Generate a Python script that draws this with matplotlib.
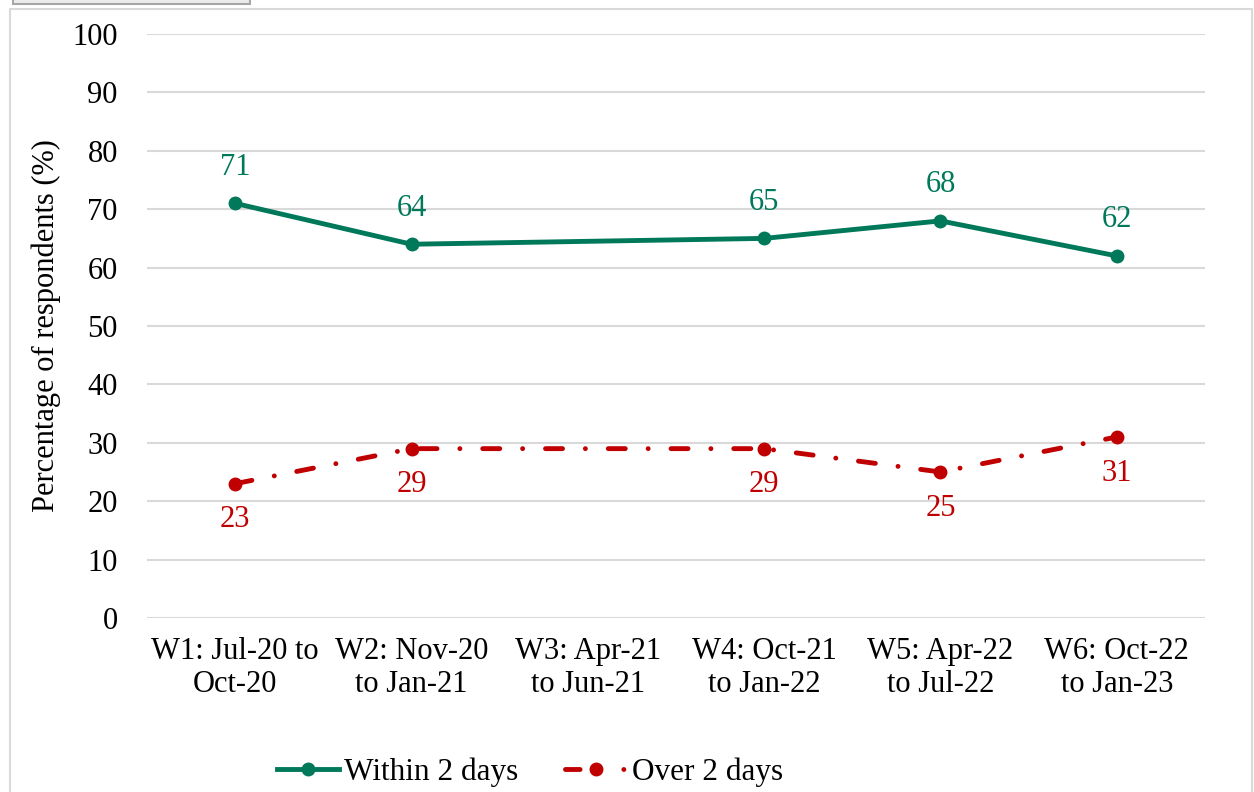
import matplotlib.pyplot as plt
from matplotlib.patches import Rectangle
from matplotlib.lines import Line2D

plt.rcParams["font.family"] = ["Liberation Serif", "DejaVu Serif"]

waves = [
    "W1: Jul-20 to\nOct-20",
    "W2: Nov-20\nto Jan-21",
    "W3: Apr-21\nto Jun-21",
    "W4: Oct-21\nto Jan-22",
    "W5: Apr-22\nto Jul-22",
    "W6: Oct-22\nto Jan-23",
]
# W3 has no data, the lines run straight from W2 to W4
wave_idx = [0, 1, 3, 4, 5]
within_2_days = [71, 64, 65, 68, 62]
over_2_days = [23, 29, 29, 25, 31]

green = "#00785A"
red = "#C00000"
fs = 22
lw = 3.5
ms = 9
dash_dot = (3.5, 4.7, 0.01, 4.7)

fig = plt.figure(figsize=(12.54, 7.92), dpi=100)
ax = fig.add_axes([147 / 1254, 1 - 618 / 792, (1205 - 147) / 1254, (618 - 34) / 792])

ax.plot(wave_idx, within_2_days, color=green, lw=lw, marker="o", ms=ms,
        solid_capstyle="round", zorder=3)
ax.plot(wave_idx, over_2_days, color=red, lw=lw, marker="o", ms=ms,
        dashes=dash_dot, dash_capstyle="round", zorder=3)

for x, v in zip(wave_idx, within_2_days):
    ax.annotate(str(v), (x, v), xytext=(0, 26), textcoords="offset points",
                ha="center", va="center", fontsize=fs, color=green)
for x, v in zip(wave_idx, over_2_days):
    ax.annotate(str(v), (x, v), xytext=(0, -26), textcoords="offset points",
                ha="center", va="center", fontsize=fs, color=red)

ax.set_xlim(-0.5, 5.5)
ax.set_ylim(0, 100)
ax.set_yticks(range(0, 101, 10))
ax.set_xticks(range(len(waves)))
ax.set_xticklabels(waves, linespacing=1.15)
ax.tick_params(axis="both", length=0, labelsize=fs)
ax.tick_params(axis="y", pad=21)
ax.tick_params(axis="x", pad=14)
ax.grid(axis="y", color="#D9D9D9", lw=1.5)
ax.set_axisbelow(True)
for s in ax.spines.values():
    s.set_visible(False)

fig.text(46 / 1254, 1 - 326 / 792, "Percentage of respondents (%)", rotation=90,
         ha="center", va="center", fontsize=fs)

# legend keys: the red one shows dash, marker, then a dot at its end
handles = [
    Line2D([], [], color=green, lw=lw, marker="o", ms=ms),
    Line2D([], [], color=red, lw=lw, marker="o", ms=ms,
           dashes=(3.0, 9.0, 0.01, 10), dash_capstyle="round"),
]
fig.legend(handles, ["Within 2 days", "Over 2 days"], loc="center",
           bbox_to_anchor=(530 / 1254, 1 - 772 / 792), ncol=2, frameon=False,
           fontsize=22.5, handlelength=2.0, handletextpad=0.15, columnspacing=1.5)

# chart frame and the grey strip above it
fig.patches.append(Rectangle((10 / 1254, -0.02), 1242 / 1254, 1.02 - 9 / 792,
                             transform=fig.transFigure, fill=False,
                             edgecolor="#D9D9D9", lw=1.5))
fig.patches.append(Rectangle((13 / 1254, 1 - 4 / 792), 237 / 1254, 0.02,
                             transform=fig.transFigure, facecolor="#EBEBEB",
                             edgecolor="#A6A6A6", lw=1.5))

fig.savefig("out.png", dpi=100)
